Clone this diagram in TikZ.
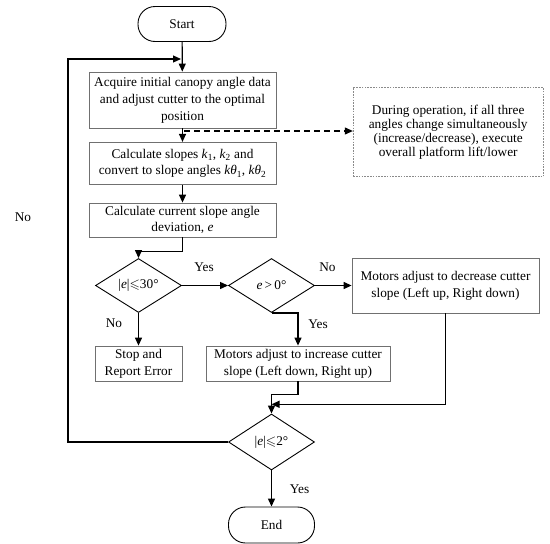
\documentclass[tikz,border=0pt]{standalone}
\usepackage{fontspec}
\usepackage{amssymb}
\setmainfont{Liberation Serif}
\usetikzlibrary{arrows.meta,shapes.geometric}
\definecolor{boxgray}{HTML}{707070}
\definecolor{dashgray}{HTML}{8A8A8A}
\begin{document}
\begin{tikzpicture}[x=1pt,y=-1pt,
  every node/.style={font=\fontsize{13.3}{16.8}\selectfont, inner sep=0pt},
  procbox/.style={draw=boxgray, line width=0.8pt, rectangle, align=center},
  notebox/.style={draw=dashgray, line width=0.7pt, dash pattern=on 1.6pt off 1.2pt, rectangle, align=center, font=\fontsize{13.3}{13.9}\selectfont},
  decision/.style={draw=black, line width=0.9pt, diamond, aspect=1.6, minimum width=86pt, minimum height=54pt},
  terminal/.style={draw=black, line width=0.9pt, rectangle, rounded corners=17pt, minimum width=88pt, minimum height=35pt},
  flow/.style={line width=1.2pt, -{Triangle[length=8pt,width=7pt]}},
  dashflow/.style={line width=1.1pt, dash pattern=on 6pt off 4pt, -{Triangle[length=8pt,width=7pt]}},
  lbl/.style={font=\fontsize{13.3}{16}\selectfont}
]
\fill[white] (0,0) rectangle (550,544);
\useasboundingbox (0,0) rectangle (550,544);

% nodes
\node[terminal] (start) at (182,24) {Start};
\node[procbox, minimum width=187pt, minimum height=56pt] (b1) at (182.5,100)
  {Acquire initial canopy angle data\\ and adjust cutter to the optimal\\ position};
\node[procbox, minimum width=187pt, minimum height=42pt] (b2) at (182.5,163.3)
  {Calculate slopes \textit{k}\textsubscript{1}, \textit{k}\textsubscript{2} and\\ convert to slope angles \textit{kθ}\textsubscript{1}, \textit{kθ}\textsubscript{2}};
\node[procbox, minimum width=187pt, minimum height=34pt] (b3) at (182.5,220)
  {Calculate current slope angle\\ deviation, \textit{e}};
\node[notebox, minimum width=190pt, minimum height=89.4pt] (note) at (448.2,132)
  {During operation, if all three\\ angles change simultaneously\\ (increase/decrease), execute\\ overall platform lift/lower};
\node[decision] (d1) at (138.5,285.5) {|\textit{e}|$\leqslant$30°};
\node[decision] (d2) at (271.5,285.5) {\textit{e}\,>\,0°};
\node[procbox, minimum width=187pt, minimum height=55pt] (dec) at (445.5,285.5)
  {Motors adjust to decrease cutter\\ slope (Left up, Right down)};
\node[procbox, minimum width=87pt, minimum height=35pt] (stop) at (138.5,363.5)
  {Stop and\\ Report Error};
\node[procbox, minimum width=184pt, minimum height=35pt] (inc) at (298,363.5)
  {Motors adjust to increase cutter\\ slope (Left down, Right up)};
\node[decision, minimum height=56pt] (d3) at (271.5,442) {|\textit{e}|$\leqslant$2°};
\node[terminal, minimum width=86pt, minimum height=36pt] (end) at (271.5,525) {End};

% labels
\node[lbl] (ly1) at (204,267.5) {Yes};
\node[lbl] (ln1) at (327.5,267.5) {No};
\node[lbl] (ln2) at (114,323.5) {No};
\node[lbl] (ly2) at (318,324) {Yes};
\node[lbl] (ly3) at (299.5,489.6) {Yes};
\node[lbl] (ln3) at (23,217.6) {No};

% helper coordinates
\coordinate (loopL) at (68,59);
\coordinate (loopIn) at (181,59);
\coordinate (dStart) at (184,131);
\coordinate (joinDec) at (271.5,404.3);

% connectors
\draw[flow] (start) -- (b1);
\draw[flow] (b1) -- (b2);
\draw[flow] (b2) -- (b3);
\draw[dashflow] (dStart) -- (dStart -| note.west);
\draw[flow] (b3.south) -- ++(0,14) -| (d1.north);
\draw[flow] (d1.east) -- (d2.west);
\draw[flow] (d2.east) -- (dec.west);
\draw[flow] (d1.south) -- (stop.north);
\draw[flow] (d2.south) -| (inc.north);
\draw[flow] (inc.south) -- ++(0,13) -| (d3.north);
\draw[flow] (dec.south) |- (joinDec);
\draw[flow] (d3.south) -- (end.north);
\draw[flow] (d3.west) -| (loopL) -- (loopIn);
\end{tikzpicture}
\end{document}
